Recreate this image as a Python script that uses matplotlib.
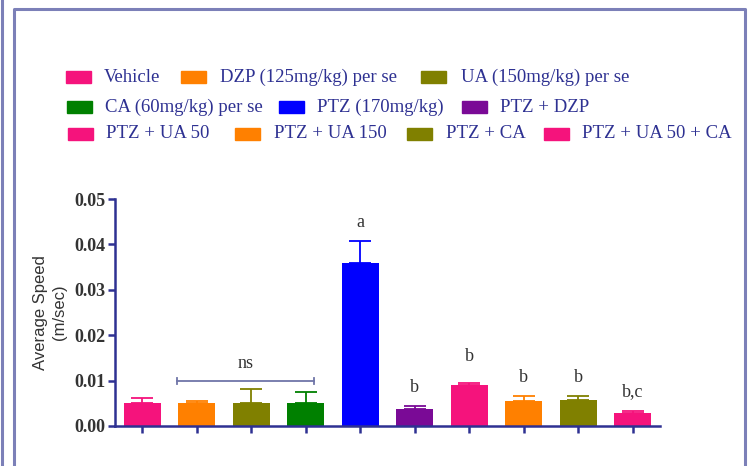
import matplotlib
matplotlib.use("Agg")
import matplotlib.pyplot as plt
from matplotlib.patches import Rectangle
from matplotlib.lines import Line2D

# data
groups = ["Vehicle", "DZP (125mg/kg) per se", "UA (150mg/kg) per se",
          "CA (60mg/kg) per se", "PTZ (170mg/kg)", "PTZ + DZP",
          "PTZ + UA 50", "PTZ + UA 150", "PTZ + CA", "PTZ + UA 50 + CA"]
means = [0.0051, 0.0050, 0.0051, 0.0050, 0.0358, 0.0037, 0.0091, 0.0056, 0.0057, 0.0029]
sem = [0.0010, 0.0004, 0.0030, 0.0024, 0.0050, 0.0006, 0.0004, 0.0010, 0.0008, 0.0003]
colors = ["#f5137c", "#ff8000", "#808000", "#008000", "#0000ff",
          "#7a0a96", "#f5137c", "#ff8000", "#808000", "#f5137c"]
sig_labels = ["", "", "", "", "a", "b", "b", "b", "b", "b,c"]
sig_gap_px = [0, 0, 0, 0, 18, 19, 26, 19, 19, 20]

navy = "#2e3192"
text_gray = "#333333"
border = "#7c80b8"

fig = plt.figure(figsize=(7.51, 4.66), dpi=100)
W, H = 751, 466


def fx(px):
    return px / W


def fy(py):
    return 1 - py / H


# panel borders
fig.add_artist(Line2D([fx(1.5), fx(1.5)], [0, 1], color=border, lw=2.2))
fig.add_artist(Line2D([fx(14.5), fx(14.5), fx(744.5), fx(744.5)],
                      [0, fy(8.5), fy(8.5), 0], color=border, lw=2.2))

ax = fig.add_axes([fx(115), fy(426), fx(660) - fx(115), fy(199) - fy(426)])
x = list(range(len(means)))
ax.bar(x, means, width=0.68, color=colors, zorder=2)
for xi, m, e, c in zip(x, means, sem, colors):
    ax.errorbar(xi, m, yerr=[[0], [e]], color=c, capsize=8, elinewidth=1.3,
                capthick=1.3, zorder=1)

for xi, m, e, lab, gap in zip(x, means, sem, sig_labels, sig_gap_px):
    if lab:
        ax.annotate(lab, (xi, m + e), xytext=(0, gap * 0.72),
                    textcoords="offset points", ha="center", va="center",
                    fontsize=13, family="Liberation Serif", color=text_gray)

# ns bracket over per-se groups
ax.plot([0.64, 3.15], [0.0099, 0.0099], color="#6f75a8", lw=1.3)
for bx in (0.64, 3.15):
    ax.plot([bx, bx], [0.0093, 0.0105], color="#6f75a8", lw=1.3)
ax.text(1.9, 0.0137, "ns", ha="center", va="center", fontsize=13,
        family="Liberation Serif", color=text_gray)

ax.set_xlim(-0.5, 9.5)
ax.set_ylim(0, 0.05)
ax.set_yticks([0, 0.01, 0.02, 0.03, 0.04, 0.05])
ax.set_yticklabels(["0.00", "0.01", "0.02", "0.03", "0.04", "0.05"],
                   family="Liberation Serif", fontweight="bold", fontsize=13,
                   color=text_gray)
ax.set_xticks(x)
ax.set_xticklabels([])
for side in ("top", "right"):
    ax.spines[side].set_visible(False)
for side in ("left", "bottom"):
    ax.spines[side].set_color(navy)
    ax.spines[side].set_linewidth(1.8)
ax.tick_params(colors=navy, width=1.8, length=5, direction="out")
ax.tick_params(axis="y", labelcolor=text_gray, pad=2)
ax.set_ylabel("Average Speed\n(m/sec)", family="Liberation Sans", fontsize=12,
              color=text_gray, labelpad=5, linespacing=1.35)

# legend drawn by hand to match the three irregular rows
legend_rows = [
    [(0, 66, 104), (1, 181, 220), (2, 421, 461)],
    [(3, 67, 105), (4, 279, 317), (5, 462, 500)],
    [(6, 68, 106), (7, 235, 274), (8, 407, 446), (9, 544, 582)],
]
row_y = [77, 107, 134]
for row, yc in zip(legend_rows, row_y):
    for idx, px, tx in row:
        fig.add_artist(Rectangle((fx(px), fy(yc + 6)), fx(25), 12 / H,
                                 color=colors[idx], transform=fig.transFigure))
        fig.text(fx(tx), fy(yc), groups[idx], ha="left", va="center",
                 fontsize=13.5, family="Liberation Serif", color=navy)

fig.savefig("out.png", dpi=100)
